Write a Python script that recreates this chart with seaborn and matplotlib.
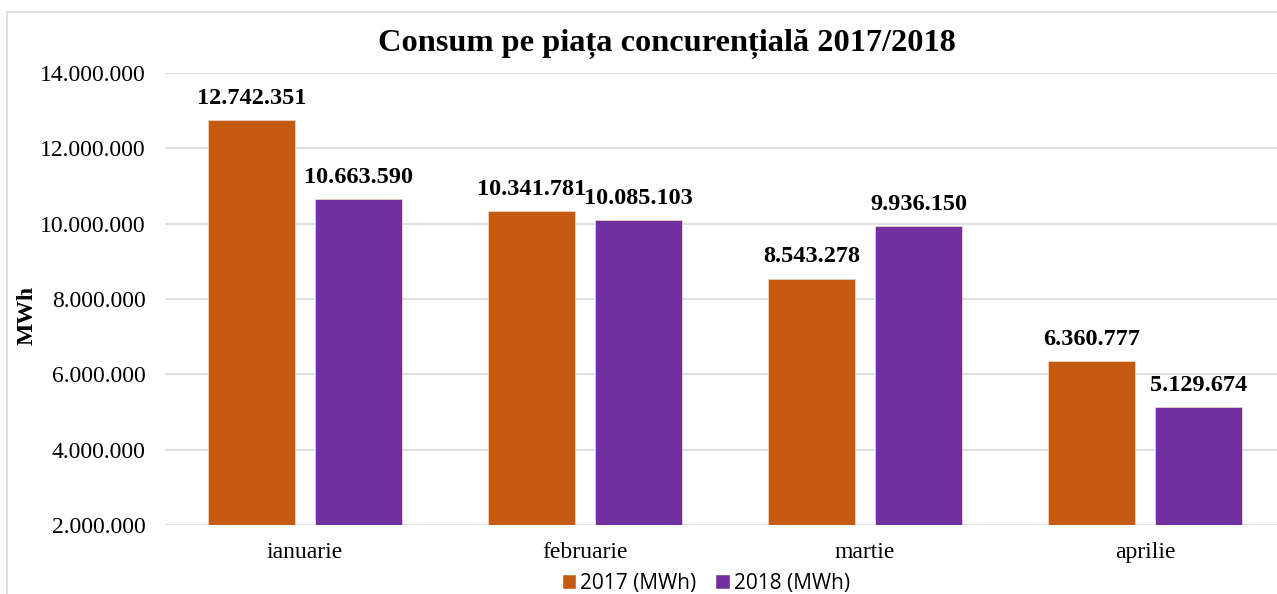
import matplotlib
matplotlib.use('Agg')
import matplotlib.pyplot as plt
import matplotlib.ticker as mticker
from matplotlib.patches import Rectangle, Patch
import pandas as pd
import seaborn as sns

# data
months = ['ianuarie', 'februarie', 'martie', 'aprilie']
vals_2017 = [12742351, 10341781, 8543278, 6360777]
vals_2018 = [10663590, 10085103, 9936150, 5129674]
series = ['2017 (MWh)', '2018 (MWh)']
colors = ['#C55A11', '#7030A0']

df = pd.DataFrame({
    'luna': months * 2,
    'serie': [series[0]] * 4 + [series[1]] * 4,
    'MWh': vals_2017 + vals_2018,
})

sns.set_style('white')
plt.rcParams['font.family'] = ['Liberation Serif', 'DejaVu Serif']
plt.rcParams['text.color'] = 'black'
plt.rcParams['xtick.color'] = 'black'
plt.rcParams['ytick.color'] = 'black'

fig = plt.figure(figsize=(12.77, 5.94), dpi=100)
ax = fig.add_axes([165 / 1277, 1 - 525 / 594, 1120 / 1277, 452 / 594])

sns.barplot(data=df, x='luna', y='MWh', hue='serie', palette=colors, saturation=1,
            order=months, hue_order=series, width=0.764, gap=0.187,
            edgecolor='#EBD3C3', linewidth=0.6, ax=ax, legend=False)

ax.set_ylim(2000000, 14000000)
ax.yaxis.set_major_locator(mticker.MultipleLocator(2000000))
ax.yaxis.set_major_formatter(mticker.FuncFormatter(lambda v, p: f'{int(v):,}'.replace(',', '.')))
ax.grid(axis='y', color='#DDE1E6', linewidth=1.5)
ax.set_axisbelow(True)
sns.despine(ax=ax, left=True, bottom=True)
ax.tick_params(axis='y', length=0, pad=14, labelsize=17)
ax.tick_params(axis='x', length=0, pad=12, labelsize=17)
ax.set_xlabel('')
ax.set_ylabel('')

for cont in ax.containers:
    ax.bar_label(cont, labels=[f'{int(b.get_height()):,}'.replace(',', '.') for b in cont],
                 padding=8, fontsize=17.5, fontweight='bold')

fig.text(27 / 1277, 1 - 315 / 594, 'MWh', rotation=90, ha='center', va='center',
         fontsize=17, fontweight='bold')
fig.text(667 / 1277, 1 - 44 / 594, 'Consum pe piața concurențială 2017/2018',
         ha='center', va='center', fontsize=23.3, fontweight='bold')

# chart area border
fig.patches.append(Rectangle((7 / 1277, -0.1), 1.2, 1 - 12 / 594 + 0.1, transform=fig.transFigure,
                             fill=False, edgecolor='#DDE1E6', linewidth=1.5))

handles = [Patch(facecolor=c, label=s) for c, s in zip(colors, series)]
fig.legend(handles=handles, loc='center', bbox_to_anchor=(706 / 1277, 1 - 583 / 594),
           ncol=2, frameon=False, handlelength=0.7, handleheight=0.7, handletextpad=0.2,
           columnspacing=0.9, prop={'family': 'Open Sans', 'size': 15})

fig.savefig('out.png', dpi=100)
